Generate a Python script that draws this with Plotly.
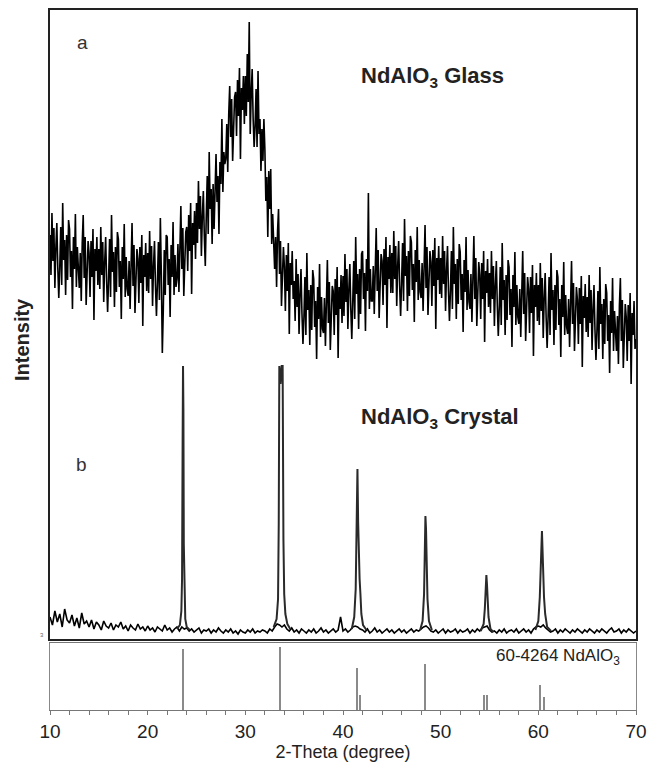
import numpy as np
import plotly.graph_objects as go

# ---------------- data ----------------
# (a) NdAlO3 glass, 2-theta 10..70 step 0.1
glass_2theta = np.round(np.arange(10, 70.0001, 0.1), 2)
glass_int = [
    404, 364, 426, 378, 411, 351, 391, 416, 371, 341,
    372, 412, 354, 436, 379, 399, 344, 404, 359, 419,
    410, 362, 388, 330, 402, 370, 425, 352, 392, 360,
    351, 386, 338, 396, 424, 361, 402, 334, 382, 398,
    386, 342, 398, 362, 410, 319, 390, 368, 402, 354,
    390, 350, 412, 364, 397, 337, 377, 402, 357, 327,
    360, 400, 342, 424, 367, 387, 332, 392, 347, 407,
    400, 352, 378, 320, 392, 360, 415, 342, 382, 350,
    343, 378, 330, 388, 416, 353, 394, 326, 374, 390,
    380, 336, 392, 356, 404, 313, 384, 362, 396, 348,
    386, 346, 408, 360, 393, 333, 373, 398, 353, 323,
    357, 397, 339, 421, 364, 286, 329, 389, 344, 404,
    402, 354, 380, 322, 394, 362, 417, 344, 384, 352,
    360, 395, 347, 405, 433, 370, 411, 343, 391, 407,
    412, 368, 424, 388, 436, 345, 416, 394, 428, 380,
    436, 396, 458, 410, 443, 383, 423, 448, 403, 373,
    423, 463, 405, 487, 430, 450, 395, 455, 410, 470,
    485, 437, 463, 405, 477, 455, 520, 447, 487, 475,
    480, 515, 467, 525, 553, 502, 540, 478, 526, 542,
    547, 503, 559, 523, 571, 480, 551, 529, 563, 515,
    563, 523, 585, 537, 617, 505, 545, 570, 520, 492,
    513, 550, 492, 568, 505, 520, 468, 510, 478, 520,
    490, 438, 462, 402, 468, 430, 470, 395, 425, 402,
    370, 402, 352, 408, 430, 365, 398, 333, 375, 392,
    372, 328, 384, 348, 396, 305, 376, 354, 388, 340,
    358, 318, 380, 332, 365, 305, 345, 370, 325, 295,
    322, 362, 304, 386, 329, 349, 294, 354, 309, 369,
    360, 312, 338, 280, 352, 320, 375, 302, 342, 310,
    306, 341, 293, 351, 379, 316, 357, 289, 337, 353,
    348, 304, 360, 324, 372, 281, 352, 330, 364, 316,
    363, 323, 385, 337, 370, 310, 350, 375, 330, 300,
    338, 378, 320, 402, 345, 365, 310, 370, 325, 385,
    388, 340, 366, 308, 380, 348, 446, 330, 370, 338,
    338, 373, 325, 383, 411, 348, 389, 321, 369, 385,
    378, 334, 390, 354, 402, 311, 382, 360, 394, 346,
    386, 346, 408, 360, 393, 333, 373, 398, 353, 323,
    356, 396, 338, 420, 363, 383, 328, 388, 343, 403,
    397, 349, 375, 317, 389, 357, 412, 339, 379, 347,
    341, 376, 328, 386, 414, 351, 392, 324, 372, 388,
    377, 333, 389, 353, 401, 310, 381, 359, 393, 345,
    381, 341, 403, 355, 388, 328, 368, 393, 348, 318,
    348, 388, 330, 412, 355, 375, 320, 380, 335, 395,
    387, 339, 365, 307, 379, 347, 402, 329, 369, 337,
    330, 365, 317, 375, 403, 340, 381, 313, 361, 377,
    364, 320, 376, 340, 388, 297, 368, 346, 380, 332,
    366, 326, 388, 340, 373, 313, 353, 378, 333, 303,
    332, 372, 314, 396, 339, 359, 304, 364, 319, 379,
    372, 324, 350, 292, 364, 332, 387, 314, 354, 322,
    315, 350, 302, 360, 388, 325, 366, 298, 346, 362,
    350, 306, 362, 326, 374, 283, 354, 332, 366, 318,
    354, 314, 376, 328, 361, 301, 341, 366, 321, 291,
    322, 362, 304, 386, 329, 349, 294, 354, 309, 369,
    362, 314, 340, 282, 354, 322, 377, 304, 344, 312,
    305, 340, 292, 350, 378, 315, 356, 288, 336, 352,
    339, 295, 351, 315, 363, 272, 343, 321, 355, 307,
    342, 302, 364, 316, 349, 289, 329, 354, 309, 279,
    308, 348, 290, 372, 315, 335, 280, 340, 295, 355,
    346, 298, 324, 266, 338, 306, 361, 288, 328, 296,
    288, 323, 275, 333, 361, 298, 339, 271, 319, 335,
    322, 278, 334, 298, 346, 255, 326, 304, 338, 290,
    300,
]

# (b) NdAlO3 crystal baseline, 2-theta 10..70 step 0.25
crystal_2theta = np.round(np.arange(10, 70.0001, 0.25), 2)
crystal_int = [
    22, 14, 28, 17, 25, 12, 30, 19,
    16, 24, 13, 21, 11, 26, 15, 18,
    12, 19, 10, 17, 14, 9, 18, 13,
    11, 16, 9, 14, 12, 17, 10, 13,
    8, 14, 11, 9, 15, 10, 12, 8,
    13, 9, 11, 7, 12, 10, 8, 14,
    9, 11, 7, 10, 12, 8, 12, 10,
    11, 8, 10, 7, 9, 11, 6, 9,
    8, 10, 6, 9, 7, 11, 8, 6,
    9, 7, 10, 6, 8, 5, 9, 7,
    6, 9, 7, 10, 6, 8, 7, 9,
    8, 6, 10, 8, 12, 15, 14, 12,
    14, 10, 8, 11, 7, 9, 6, 10,
    8, 6, 9, 7, 10, 6, 8, 11,
    7, 9, 6, 8, 10, 7, 9, 22,
    8, 10, 7, 9, 12, 13, 12, 10,
    9, 7, 10, 6, 8, 11, 7, 9,
    6, 8, 10, 7, 9, 6, 8, 10,
    7, 9, 6, 8, 10, 7, 9, 8,
    10, 12, 13, 11, 8, 7, 9, 6,
    8, 10, 6, 9, 7, 8, 10, 6,
    9, 7, 8, 10, 6, 9, 7, 10,
    8, 11, 12, 13, 9, 7, 8, 6,
    9, 7, 10, 6, 8, 9, 7, 10,
    6, 8, 10, 7, 9, 6, 10, 12,
    13, 12, 14, 11, 9, 7, 8, 10,
    6, 9, 7, 10, 8, 6, 9, 7,
    10, 8, 6, 9, 7, 10, 8, 6,
    9, 7, 10, 8, 6, 9, 11, 7,
    8, 10, 6, 9, 7, 10, 8, 6,
    8,
]

# crystal diffraction peaks (profile points)
peak_2theta = [
    [23.0, 23.3, 23.45, 23.52, 23.58, 23.62, 23.66, 23.7, 23.76, 23.85, 24.0, 24.3],
    [32.9, 33.2, 33.35, 33.42, 33.48, 33.6, 33.72, 33.82, 33.9, 33.98, 34.1, 34.3, 34.6],
    [40.9, 41.15, 41.3, 41.4, 41.48, 41.55, 41.62, 41.7, 41.78, 41.88, 42.05, 42.4],
    [47.9, 48.15, 48.3, 48.38, 48.44, 48.5, 48.56, 48.65, 48.8, 49.1],
    [54.1, 54.4, 54.52, 54.62, 54.68, 54.74, 54.8, 54.9, 55.1, 55.4],
    [59.7, 60.0, 60.15, 60.25, 60.32, 60.37, 60.42, 60.5, 60.58, 60.7, 60.9, 61.3],
]
peak_int = [
    [10, 14, 28, 60, 200, 273, 230, 95, 45, 20, 12, 9],
    [12, 20, 40, 115, 273, 255, 273, 273, 100, 45, 25, 15, 10],
    [10, 22, 50, 120, 170, 117, 75, 60, 46, 25, 14, 9],
    [9, 18, 45, 80, 123, 110, 77, 40, 18, 9],
    [8, 15, 30, 55, 64, 55, 40, 22, 10, 7],
    [9, 18, 42, 70, 95, 108, 92, 65, 42, 25, 12, 8],
]

# reference pattern 60-4264 NdAlO3
ref_2theta = [23.62, 33.58, 41.45, 41.8, 48.42, 54.42, 54.75, 60.2, 60.62]
ref_int = [97, 100, 67, 24, 73, 24, 24, 40, 21]

x_ticks = [10, 20, 30, 40, 50, 60, 70]

# ---------------- figure ----------------
W, H = 647, 765
X0, X1 = 50, 636
MAIN_TOP, MAIN_BOT = 10, 639
REF_TOP, REF_BOT = 643, 710

fig = go.Figure()

fig.add_trace(go.Scatter(
    x=glass_2theta, y=glass_int, mode="lines",
    line=dict(color="#000000", width=1.6), xaxis="x2", yaxis="y2",
    showlegend=False, hoverinfo="skip"))

fig.add_trace(go.Scatter(
    x=crystal_2theta, y=crystal_int, mode="lines",
    line=dict(color="#000000", width=1.6), xaxis="x2", yaxis="y2",
    showlegend=False, hoverinfo="skip"))

for px, py in zip(peak_2theta, peak_int):
    fig.add_trace(go.Scatter(
        x=px, y=py, mode="lines",
        line=dict(color="#2a2a2a", width=2), xaxis="x2", yaxis="y2",
        showlegend=False, hoverinfo="skip"))

fig.add_trace(go.Bar(
    x=ref_2theta, y=ref_int, width=0.13,
    marker=dict(color="#8a8a8a", line=dict(width=0)),
    xaxis="x", yaxis="y", showlegend=False, hoverinfo="skip"))

dom_x = [X0 / W, X1 / W]
fig.update_layout(
    width=W, height=H,
    margin=dict(l=0, r=0, t=0, b=0, autoexpand=False),
    paper_bgcolor="white", plot_bgcolor="white",
    font=dict(family="Liberation Sans, Arial, sans-serif", color="#222"),
    bargap=0,
    xaxis=dict(
        domain=dom_x, range=[10, 70], anchor="y", automargin=False,
        tickvals=x_ticks, ticktext=[str(v) for v in x_ticks],
        ticks="outside", ticklen=4, tickcolor="#777", tickwidth=1,
        minor=dict(dtick=2, ticks="outside", ticklen=4, tickcolor="#777"),
        showline=True, linecolor="#777", linewidth=1, mirror=True,
        showgrid=False, zeroline=False,
        tickfont=dict(size=19, color="#222"),
        title=dict(text="2-Theta (degree)", font=dict(size=18, color="#222"), standoff=4),
    ),
    yaxis=dict(
        domain=[(H - REF_BOT) / H, (H - REF_TOP) / H],
        range=[0, 106.3], anchor="x", automargin=False,
        showline=True, linecolor="#888", linewidth=1, mirror=True,
        showticklabels=False, ticks="", showgrid=False, zeroline=False,
    ),
    xaxis2=dict(
        domain=dom_x, range=[10, 70], anchor="y2", automargin=False,
        showticklabels=False, ticks="",
        showline=True, linecolor="#222", linewidth=2, mirror=True,
        showgrid=False, zeroline=False,
    ),
    yaxis2=dict(
        domain=[(H - MAIN_BOT) / H, (H - MAIN_TOP) / H],
        range=[0, 629], anchor="x2", automargin=False,
        showticklabels=False, ticks="",
        showline=True, linecolor="#222", linewidth=2, mirror=True,
        showgrid=False, zeroline=False,
    ),
)

def ann(text, x, y, size, bold=False, color="#222", angle=0, xanchor="center"):
    fig.add_annotation(
        text=f"<b>{text}</b>" if bold else text,
        x=x / W, y=1 - y / H, xref="paper", yref="paper",
        xanchor=xanchor, yanchor="middle", showarrow=False,
        textangle=angle, font=dict(size=size, color=color))

ann("a", 82, 42, 19, color="#333")
ann("b", 81, 465, 19, color="#333")
ann("NdAlO<sub>3</sub> Glass", 359, 77, 22, bold=True, xanchor="left")
ann("NdAlO<sub>3</sub> Crystal", 359, 418, 22, bold=True, xanchor="left")
ann("60-4264 NdAlO<sub>3</sub>", 622, 657, 17, xanchor="right")
ann("Intensity", 22, 340, 20, bold=True, angle=-90)
ann("3", 42, 635, 6, color="#666")

fig.write_html("out.html")
